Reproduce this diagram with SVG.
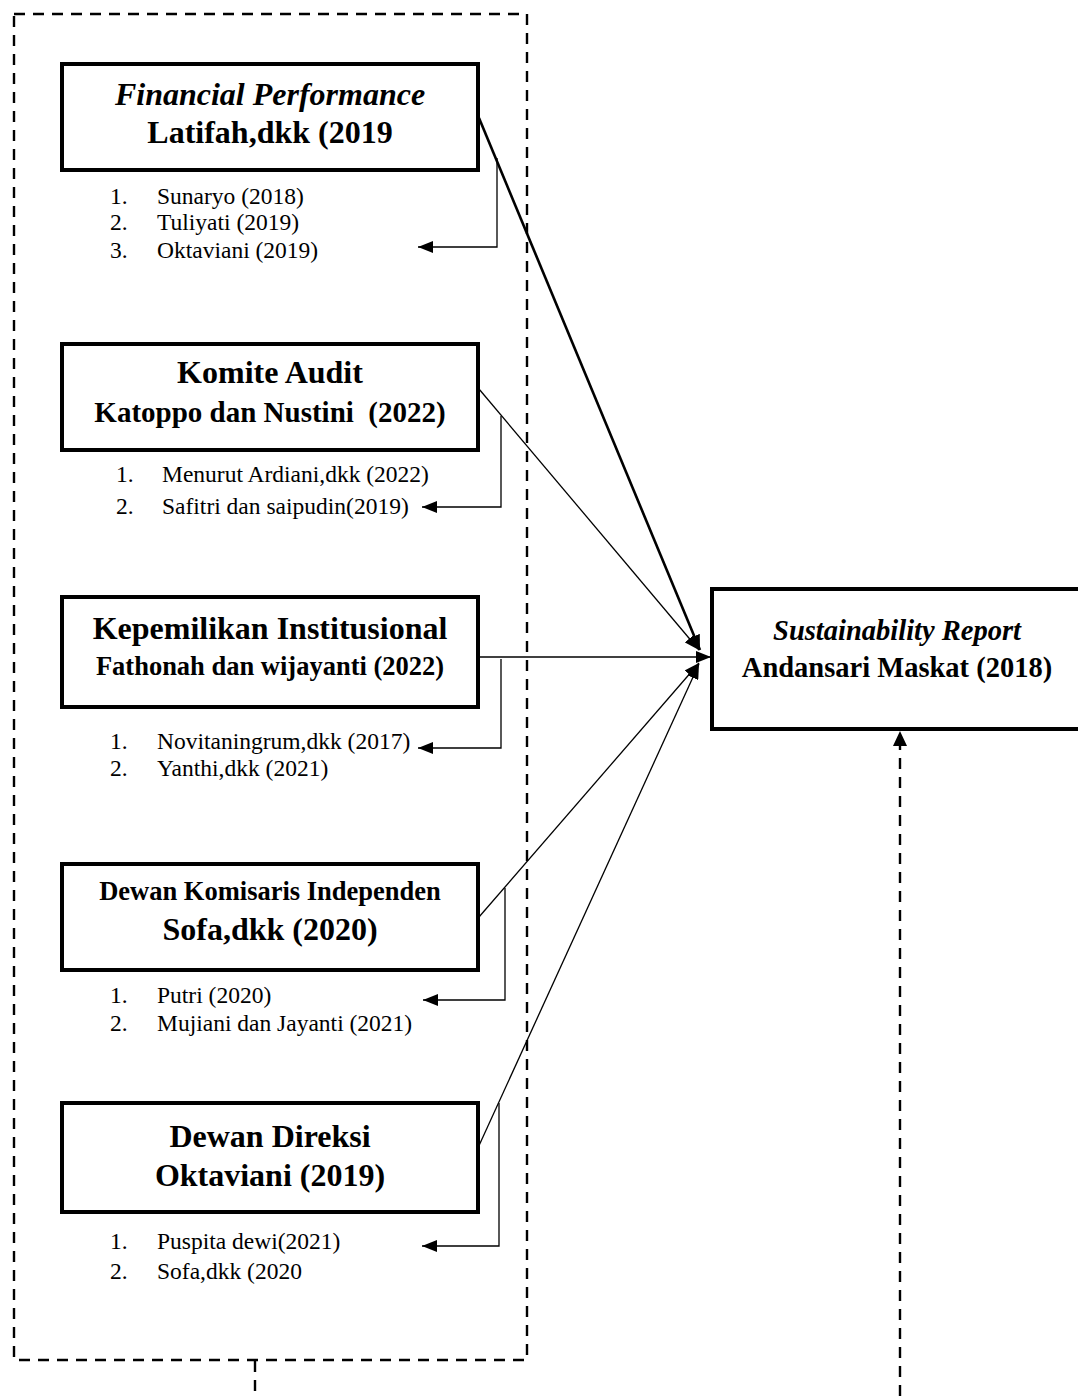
<svg xmlns="http://www.w3.org/2000/svg" width="1078" height="1396" viewBox="0 0 1078 1396">
<style>
.box{fill:#fff;stroke:#000;stroke-width:4}
.dash{fill:none;stroke:#000;stroke-width:2.4;stroke-dasharray:11 8}
.h{font-family:"Liberation Serif","Times New Roman",serif;font-weight:bold;text-anchor:middle;fill:#000}
.hi{font-style:italic}
.li{font-family:"Liberation Serif","Times New Roman",serif;font-size:23.5px;fill:#000}
.ln{fill:none;stroke:#000;stroke-width:1.3}
.lt{fill:none;stroke:#000;stroke-width:2.6}
</style>
<defs>
<marker id="ah" markerUnits="userSpaceOnUse" markerWidth="15" markerHeight="12" refX="15" refY="6" orient="auto">
<path d="M0,0 L15,6 L0,12 z" fill="#000"/>
</marker>
</defs>
<rect width="1078" height="1396" fill="#fff"/>
<g id="outer-group">
<rect class="dash" x="14" y="14" width="513" height="1346"/>
</g>
<g id="connectors">
<line class="dash" x1="255" y1="1361" x2="255" y2="1396"/>
<line class="dash" x1="900" y1="1396" x2="900" y2="745"/>
<path d="M900,731 L907,746 L893,746 z" fill="#000"/>
<line class="lt" x1="479" y1="118" x2="700" y2="650" marker-end="url(#ah)"/>
<line class="ln" x1="479" y1="389" x2="699" y2="650" marker-end="url(#ah)"/>
<line class="ln" x1="479" y1="657" x2="711" y2="657" marker-end="url(#ah)"/>
<line class="ln" x1="479" y1="917" x2="699" y2="663" marker-end="url(#ah)"/>
<line class="ln" x1="477" y1="1150" x2="699" y2="664" marker-end="url(#ah)"/>
<path class="ln" d="M497,158 V247 H418" marker-end="url(#ah)"/>
<path class="ln" d="M501,416 V507 H422" marker-end="url(#ah)"/>
<path class="ln" d="M501,659 V748 H418" marker-end="url(#ah)"/>
<path class="ln" d="M505,888 V1000 H423" marker-end="url(#ah)"/>
<path class="ln" d="M499,1103 V1246 H422" marker-end="url(#ah)"/>
</g>
<g id="financial-performance">
<rect class="box" x="62" y="64" width="416" height="106"/>
<text class="h hi" x="270" y="105" font-size="32">Financial Performance</text>
<text class="h" x="270" y="143" font-size="32">Latifah,dkk (2019</text>
</g>
<g id="list-1">
<text class="li" x="110" y="204">1.</text><text class="li" x="157" y="204">Sunaryo (2018)</text>
<text class="li" x="110" y="230">2.</text><text class="li" x="157" y="230">Tuliyati (2019)</text>
<text class="li" x="110" y="258">3.</text><text class="li" x="157" y="258">Oktaviani (2019)</text>
</g>
<g id="komite-audit">
<rect class="box" x="62" y="344" width="416" height="106"/>
<text class="h" x="270" y="383" font-size="32">Komite Audit</text>
<text class="h" x="270" y="422" font-size="29" xml:space="preserve">Katoppo dan Nustini  (2022)</text>
</g>
<g id="list-2">
<text class="li" x="116" y="482">1.</text><text class="li" x="162" y="482">Menurut Ardiani,dkk (2022)</text>
<text class="li" x="116" y="514">2.</text><text class="li" x="162" y="514">Safitri dan saipudin(2019)</text>
</g>
<g id="kepemilikan-institusional">
<rect class="box" x="62" y="597" width="416" height="110"/>
<text class="h" x="270" y="639" font-size="32">Kepemilikan Institusional</text>
<text class="h" x="270" y="675" font-size="26.5">Fathonah dan wijayanti (2022)</text>
</g>
<g id="list-3">
<text class="li" x="110" y="749">1.</text><text class="li" x="157" y="749">Novitaningrum,dkk (2017)</text>
<text class="li" x="110" y="776">2.</text><text class="li" x="157" y="776">Yanthi,dkk (2021)</text>
</g>
<g id="dewan-komisaris">
<rect class="box" x="62" y="864" width="416" height="106"/>
<text class="h" x="270" y="900" font-size="26.5">Dewan Komisaris Independen</text>
<text class="h" x="270" y="940" font-size="32">Sofa,dkk (2020)</text>
</g>
<g id="list-4">
<text class="li" x="110" y="1003">1.</text><text class="li" x="157" y="1003">Putri (2020)</text>
<text class="li" x="110" y="1031">2.</text><text class="li" x="157" y="1031">Mujiani dan Jayanti (2021)</text>
</g>
<g id="dewan-direksi">
<rect class="box" x="62" y="1103" width="416" height="109"/>
<text class="h" x="270" y="1147" font-size="32">Dewan Direksi</text>
<text class="h" x="270" y="1186" font-size="32">Oktaviani (2019)</text>
</g>
<g id="list-5">
<text class="li" x="110" y="1249">1.</text><text class="li" x="157" y="1249">Puspita dewi(2021)</text>
<text class="li" x="110" y="1279">2.</text><text class="li" x="157" y="1279">Sofa,dkk (2020</text>
</g>
<g id="sustainability-report">
<rect class="box" x="712" y="589" width="370" height="140"/>
<text class="h hi" x="897" y="640" font-size="28.5">Sustainability Report</text>
<text class="h" x="897" y="677" font-size="28.5">Andansari Maskat (2018)</text>
</g>
</svg>
